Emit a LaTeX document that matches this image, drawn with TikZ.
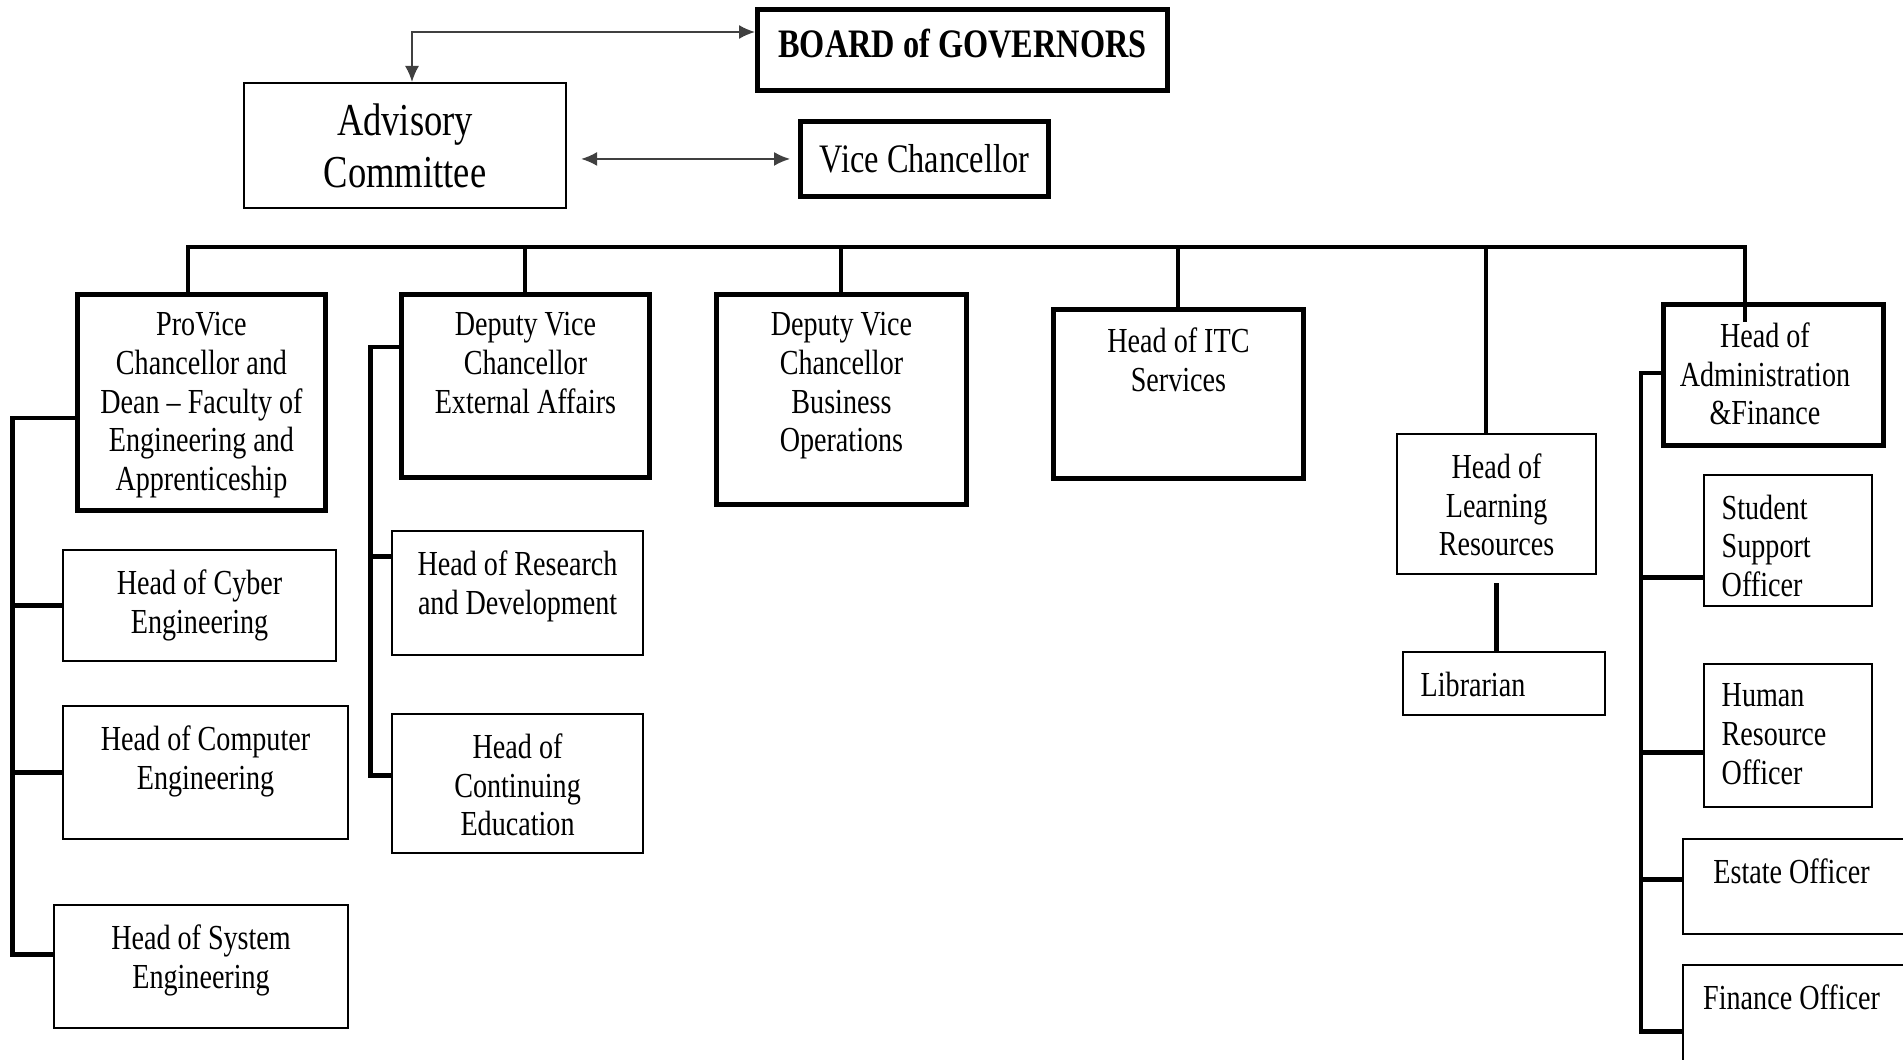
\documentclass[tikz,border=0pt]{standalone}
\usepackage{fontspec}
\usepackage{tikz}
\usetikzlibrary{arrows.meta,positioning}

\newfontfamily\orgfont[FakeStretch=0.8]{Liberation Serif}

\tikzset{
  thickbox/.style={draw, line width=1.4pt, inner sep=0pt, anchor=north west},
  thinbox/.style={draw, line width=0.6pt, inner sep=0pt, anchor=north west},
  boxtext/.style={anchor=north, yshift=-2mm, inner sep=0pt, align=center,
    font=\orgfont\fontsize{10}{11}\selectfont},
  lefttext/.style={anchor=north west, xshift=1.8mm, yshift=-2mm, inner sep=0pt,
    align=left, font=\orgfont\fontsize{10}{11}\selectfont},
  conn/.style={line width=1.4pt},
  linkarrow/.style={line width=0.5pt, black!75,
    {Latex[length=1.6mm,width=1.4mm]}-{Latex[length=1.6mm,width=1.4mm]}},
}

\begin{document}
\begin{tikzpicture}
  \path[use as bounding box, clip] (0,0) rectangle (19.03,-10.60);

  % top
  \node[thickbox, minimum width=4.10cm, minimum height=0.81cm,
    font=\orgfont\bfseries\fontsize{11.5}{13}\selectfont] (board) at (7.55,-0.07) {\raisebox{1.4mm}{BOARD of GOVERNORS}};
  \node[thinbox, minimum width=3.22cm, minimum height=1.25cm, align=center,
    font=\orgfont\fontsize{13}{14.8}\selectfont] (adv) at (2.43,-0.82) {Advisory\\Committee};
  \node[thickbox, minimum width=2.48cm, minimum height=0.75cm,
    font=\orgfont\fontsize{11.5}{13}\selectfont] (vc) at (7.98,-1.19) {Vice Chancellor};

  \coordinate (corner) at (4.12,-0.32);
  \draw[linkarrow] (adv.north -| corner) -- (corner) -- (board.west |- corner);
  \draw[linkarrow, shorten <=1.4mm, shorten >=0.8mm] (adv.east |- vc.west) -- (vc.west);

  % second level
  \node[thickbox, minimum width=2.48cm, minimum height=2.16cm,
    label={[boxtext]north:ProVice\\Chancellor and\\Dean – Faculty of\\Engineering and\\Apprenticeship}] (pvc) at (0.75,-2.92) {};
  \node[thickbox, minimum width=2.48cm, minimum height=1.83cm,
    label={[boxtext]north:Deputy Vice\\Chancellor\\External Affairs}] (dvce) at (3.99,-2.92) {};
  \node[thickbox, minimum width=2.50cm, minimum height=2.10cm,
    label={[boxtext]north:Deputy Vice\\Chancellor\\Business\\Operations}] (dvcb) at (7.14,-2.92) {};
  \node[thickbox, minimum width=2.50cm, minimum height=1.69cm,
    label={[boxtext]north:Head of ITC\\Services}] (itc) at (10.51,-3.07) {};
  \node[thinbox, minimum width=1.99cm, minimum height=1.40cm,
    label={[boxtext]north:Head of\\Learning\\Resources}] (lr) at (13.96,-4.33) {};
  \node[thickbox, minimum width=2.20cm, minimum height=1.41cm,
    label={[boxtext, xshift=-0.85mm]north:Head of\\Administration\\\&Finance}] (adm) at (16.61,-3.02) {};

  % third level
  \node[thinbox, minimum width=2.73cm, minimum height=1.11cm,
    label={[boxtext]north:Head of Cyber\\Engineering}] (cyber) at (0.62,-5.49) {};
  \node[thinbox, minimum width=2.85cm, minimum height=1.33cm,
    label={[boxtext]north:Head of Computer\\Engineering}] (comp) at (0.62,-7.05) {};
  \node[thinbox, minimum width=2.94cm, minimum height=1.23cm,
    label={[boxtext]north:Head of System\\Engineering}] (sys) at (0.53,-9.04) {};
  \node[thinbox, minimum width=2.51cm, minimum height=1.24cm,
    label={[boxtext]north:Head of Research\\and Development}] (rnd) at (3.91,-5.30) {};
  \node[thinbox, minimum width=2.51cm, minimum height=1.39cm,
    label={[boxtext]north:Head of\\Continuing\\Education}] (ce) at (3.91,-7.13) {};
  \node[thinbox, minimum width=2.02cm, minimum height=0.63cm,
    label={[lefttext]north west:Librarian}] (lib) at (14.02,-6.51) {};
  \node[thinbox, minimum width=1.68cm, minimum height=1.31cm,
    label={[lefttext]north west:Student\\Support\\Officer}] (sso) at (17.03,-4.74) {};
  \node[thinbox, minimum width=1.68cm, minimum height=1.43cm,
    label={[lefttext]north west:Human\\Resource\\Officer}] (hro) at (17.03,-6.63) {};
  \node[thinbox, minimum width=2.33cm, minimum height=0.95cm,
    label={[boxtext, xshift=-0.8mm]north:Estate Officer}] (est) at (16.82,-8.38) {};
  \node[thinbox, minimum width=2.33cm, minimum height=1.10cm,
    label={[boxtext, xshift=-0.8mm]north:Finance Officer}] (fin) at (16.82,-9.64) {};

  % bus and drops
  \coordinate (d1) at (1.88,-2.47);
  \coordinate (d2) at (5.25,-2.47);
  \coordinate (d3) at (8.41,-2.47);
  \coordinate (d4) at (11.78,-2.47);
  \coordinate (d5) at (14.86,-2.47);
  \coordinate (d6) at (17.45,-2.47);
  \draw[conn] (pvc.north -| d1) -- (d1) -- (d6) -- (d6 |- adm.north) -- ++(0,-0.2);
  \foreach \d/\n in {d2/dvce, d3/dvcb, d4/itc, d5/lr}
    \draw[conn] (\d) -- (\d |- \n.north);

  % side spines
  \coordinate (s1) at (0.125,-4.18);
  \draw[conn] (pvc.west |- s1) -- (s1) |- ([yshift=1.2mm]sys.west);
  \draw[conn] (s1) |- (cyber.west);
  \draw[conn] (s1) |- (comp.west);

  \coordinate (s2) at (3.705,-3.47);
  \draw[conn] (dvce.west |- s2) -- (s2) |- ([yshift=0.85mm]ce.west);
  \draw[conn] (s2) |- ([yshift=3.7mm]rnd.west);

  \coordinate (s3) at (16.41,-3.73);
  \draw[conn] (adm.west |- s3) -- (s3) |- ([yshift=-1.1mm]fin.west);
  \draw[conn] (s3) |- ([yshift=-3.65mm]sso.west);
  \draw[conn] (s3) |- ([yshift=-1.65mm]hro.west);
  \draw[conn] (s3) |- ([yshift=0.75mm]est.west);

  \draw[conn] ([yshift=-0.8mm]lr.south) -- (lib.north -| lr.south);
\end{tikzpicture}
\end{document}
